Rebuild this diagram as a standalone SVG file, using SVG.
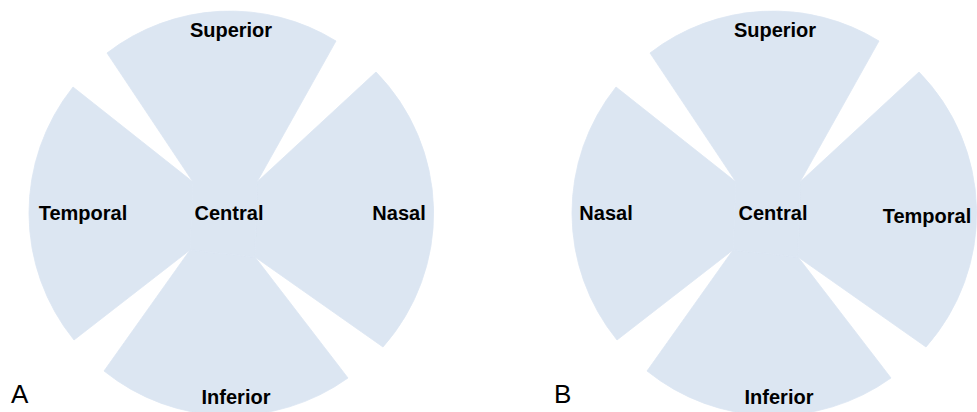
<svg xmlns="http://www.w3.org/2000/svg" width="977" height="412" viewBox="0 0 977 412">
<style>
.sec{fill:#dce6f2;stroke:#dce6f2;stroke-width:0.8;stroke-linejoin:round}
.lbl{font-family:"Liberation Sans",Arial,sans-serif;font-weight:bold;font-size:20px;fill:#000;text-anchor:middle}
.tag{font-family:"Liberation Sans",Arial,sans-serif;font-size:26px;fill:#000}
</style>
<rect width="977" height="412" fill="#fff"/>
<defs>
<path id="pSup" d="M193,182 L107,53 A202,202 0 0 1 336,41 L257,182 Z"/>
<path id="pRight" d="M257,182 L376,72 A202,202 0 0 1 383,347 L255,257 Z"/>
<path id="pInf" d="M255,257 L348,378 A202,202 0 0 1 104,371 L190,250 Z"/>
<path id="pLeft" d="M190,250 L74,340 A202,202 0 0 1 73,87 L193,182 Z"/>
<path id="pCen" d="M193,182 L257,182 L255,257 L190,250 Z"/>
</defs>
<g id="diagramA">
<g id="A-superior"><use href="#pSup" class="sec"/><text class="lbl" x="231" y="37">Superior</text></g>
<g id="A-nasal"><use href="#pRight" class="sec"/><text class="lbl" x="399" y="220">Nasal</text></g>
<g id="A-inferior"><use href="#pInf" class="sec"/><text class="lbl" x="236" y="404">Inferior</text></g>
<g id="A-temporal"><use href="#pLeft" class="sec"/><text class="lbl" x="83" y="220">Temporal</text></g>
<g id="A-central"><use href="#pCen" class="sec"/><text class="lbl" x="229" y="220">Central</text></g>
<text id="A-tag" class="tag" x="11" y="403">A</text>
</g>
<g id="diagramB">
<g id="B-superior"><use href="#pSup" class="sec" transform="translate(543,0)"/><text class="lbl" x="775" y="37">Superior</text></g>
<g id="B-temporal"><use href="#pRight" class="sec" transform="translate(543,0)"/><text class="lbl" x="927" y="223">Temporal</text></g>
<g id="B-inferior"><use href="#pInf" class="sec" transform="translate(543,0)"/><text class="lbl" x="779" y="404">Inferior</text></g>
<g id="B-nasal"><use href="#pLeft" class="sec" transform="translate(543,0)"/><text class="lbl" x="606" y="220">Nasal</text></g>
<g id="B-central"><use href="#pCen" class="sec" transform="translate(543,0)"/><text class="lbl" x="773" y="220">Central</text></g>
<text id="B-tag" class="tag" x="554" y="403">B</text>
</g>
<g id="connectors"/>
</svg>
